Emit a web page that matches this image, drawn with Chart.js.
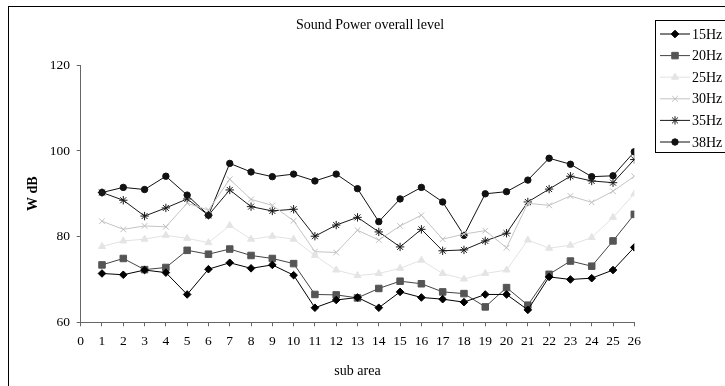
<!DOCTYPE html>
<html>
<head>
<meta charset="utf-8">
<script src="https://cdn.jsdelivr.net/npm/chart.js@4.4.1/dist/chart.umd.min.js"></script>
<style>
    html, body { margin: 0; padding: 0; background: #fff; }
</style>
</head>
<body>
<canvas id="myChart" width="725" height="386"></canvas>
<script>
// values
const subAreas = [1, 2, 3, 4, 5, 6, 7, 8, 9, 10, 11, 12, 13, 14, 15, 16, 17, 18, 19, 20, 21, 22, 23, 24, 25, 26];
const hz15 = [71.4, 71.1, 72.2, 71.6, 66.5, 72.4, 73.9, 72.6, 73.4, 71.0, 63.4, 65.2, 65.8, 63.4, 67.1, 65.8, 65.4, 64.7, 66.5, 66.5, 62.9, 70.6, 70.0, 70.3, 72.2, 77.5];
const hz20 = [73.4, 74.9, 72.3, 72.8, 76.8, 75.9, 77.1, 75.6, 74.9, 73.7, 66.5, 66.4, 65.7, 67.9, 69.6, 69.0, 67.1, 66.7, 63.6, 68.1, 64.0, 71.2, 74.3, 73.1, 79.0, 85.2];
const hz25 = [77.7, 79.0, 79.4, 80.3, 79.6, 78.6, 82.6, 79.4, 80.1, 79.4, 75.6, 72.2, 70.9, 71.4, 72.6, 74.5, 71.4, 70.1, 71.4, 72.2, 79.2, 77.3, 78.0, 79.8, 84.5, 90.0];
const hz30 = [83.6, 81.7, 82.5, 82.3, 87.8, 86.2, 93.4, 88.7, 87.3, 83.7, 76.5, 76.3, 81.5, 79.2, 82.5, 85.0, 79.4, 80.6, 81.4, 77.4, 87.8, 87.3, 89.5, 88.0, 90.6, 94.1];
const hz35 = [90.3, 88.5, 84.8, 86.7, 88.8, 85.0, 90.9, 87.0, 86.0, 86.4, 80.1, 82.7, 84.5, 81.1, 77.6, 81.7, 76.7, 76.9, 79.0, 80.8, 88.1, 91.1, 94.1, 93.0, 92.6, 98.0];
const hz38 = [90.3, 91.5, 91.0, 94.1, 89.7, 85.0, 97.1, 95.1, 94.0, 94.6, 93.0, 94.6, 91.2, 83.5, 88.8, 91.5, 88.1, 80.3, 90.0, 90.5, 93.2, 98.3, 96.9, 94.0, 94.2, 99.8];
const seriesNames = ['15Hz', '20Hz', '25Hz', '30Hz', '35Hz', '38Hz'];

const serif = "'Liberation Serif', 'Times New Roman', serif";

function pts(values) {
    return subAreas.map((x, i) => ({ x: x, y: values[i] }));
}

function series(label, values, line, fill, style, radius) {
    return {
        label: label,
        data: pts(values),
        borderColor: line,
        borderWidth: 1,
        pointStyle: style,
        pointRadius: radius,
        pointBackgroundColor: fill,
        pointBorderColor: fill,
        pointBorderWidth: 1,
        tension: 0
    };
}

const data = {
    datasets: [
        series(seriesNames[0], hz15, '#000', '#000', 'rectRot', 3.8),
        series(seriesNames[1], hz20, '#444', '#555', 'rect', 4.6),
        series(seriesNames[2], hz25, '#e2e2e2', '#e4e4e4', 'triangle', 4),
        series(seriesNames[3], hz30, '#c4c4c4', '#c0c0c0', 'crossRot', 4),
        series(seriesNames[4], hz35, '#1a1a1a', '#1a1a1a', 'star', 4.2),
        series(seriesNames[5], hz38, '#111', '#111', 'circle', 3.2)
    ]
};

// frame, title and the boxed legend on the right
const decor = {
    id: 'decor',
    beforeDraw(chart) {
        const ctx = chart.ctx;
        ctx.save();
        ctx.fillStyle = '#fff';
        ctx.fillRect(0, 0, chart.width, chart.height);
        ctx.strokeStyle = '#000';
        ctx.lineWidth = 1;
        ctx.strokeRect(8.5, 6.5, 1000, 1000);
        ctx.restore();
    },
    afterDraw(chart) {
        const ctx = chart.ctx;
        ctx.save();
        ctx.fillStyle = '#000';
        ctx.font = '14px ' + serif;
        ctx.textAlign = 'center';
        ctx.textBaseline = 'middle';
        ctx.fillText('Sound Power overall level', 370, 25);

        ctx.strokeStyle = '#000';
        ctx.lineWidth = 1;
        ctx.strokeRect(655.5, 20.5, 100, 132);

        chart.data.datasets.forEach((ds, i) => {
            const y = 34 + i * 21.6;
            ctx.strokeStyle = ds.borderColor;
            ctx.beginPath();
            ctx.moveTo(660, y);
            ctx.lineTo(690, y);
            ctx.stroke();
            ctx.fillStyle = ds.pointBackgroundColor;
            ctx.strokeStyle = ds.pointBorderColor;
            Chart.helpers.drawPoint(ctx, {
                pointStyle: ds.pointStyle,
                radius: ds.pointRadius,
                rotation: 0,
                borderWidth: 1
            }, 675, y);
            ctx.fillStyle = '#000';
            ctx.textAlign = 'left';
            ctx.fillText(ds.label, 692, y + 1);
        });
        ctx.restore();
    }
};

const config = {
    type: 'line',
    data,
    options: {
        responsive: false,
        animation: false,
        layout: { padding: { left: 20, right: 90.7, top: 65.3, bottom: 6.6 } },
        plugins: {
            legend: { display: false },
            tooltip: { enabled: false },
            title: { display: false }
        },
        scales: {
            x: {
                type: 'linear',
                min: 0,
                max: 26,
                afterFit: s => { s.height = 57.1; },
                ticks: {
                    stepSize: 1,
                    autoSkip: false,
                    maxRotation: 0,
                    padding: 7.3,
                    color: '#000',
                    font: { family: serif, size: 13.5 }
                },
                grid: { drawOnChartArea: false, drawTicks: true, tickLength: 4, color: '#666' },
                border: { color: '#666' },
                title: {
                    display: true,
                    text: 'sub area',
                    color: '#000',
                    font: { family: serif, size: 14 },
                    padding: { top: 0, bottom: 0 }
                }
            },
            y: {
                min: 60,
                max: 120,
                afterFit: s => { s.width = 60.7; },
                ticks: {
                    stepSize: 20,
                    padding: 6.7,
                    color: '#000',
                    font: { family: serif, size: 13.5 }
                },
                grid: { drawOnChartArea: false, drawTicks: true, tickLength: 4, color: '#666' },
                border: { color: '#666' },
                title: {
                    display: true,
                    text: 'W dB',
                    color: '#000',
                    font: { family: serif, size: 14, weight: 'bold' },
                    padding: { top: 4.5, bottom: 0 }
                }
            }
        }
    },
    plugins: [decor]
};

const myChart = new Chart(document.getElementById('myChart'), config);
</script>
</body>
</html>
